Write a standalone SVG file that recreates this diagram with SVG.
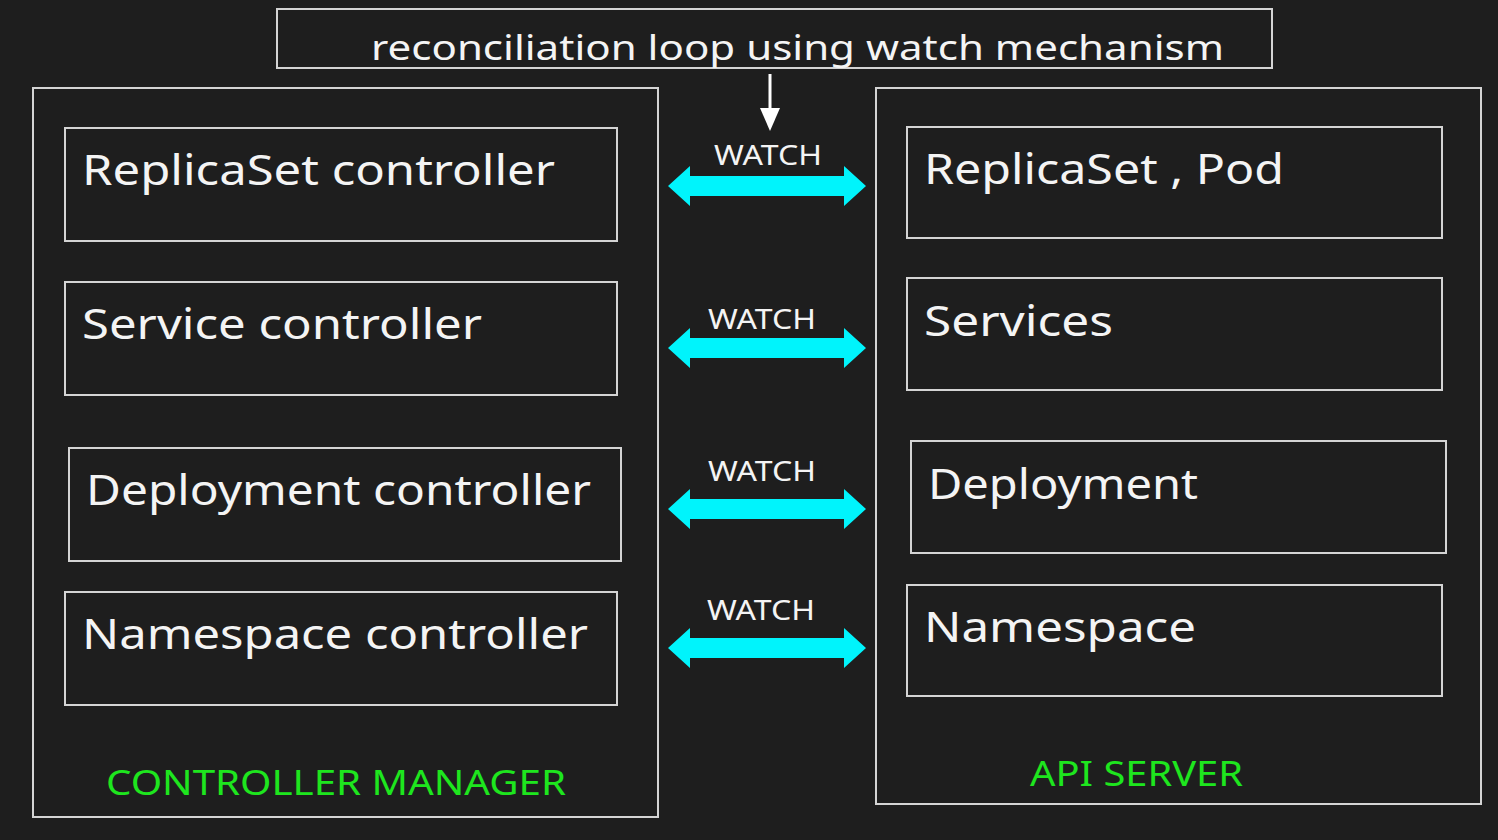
<svg xmlns="http://www.w3.org/2000/svg" width="1498" height="840" viewBox="0 0 1498 840">
<defs>
<style>
.box{fill:none;stroke:#d4d4d4;stroke-width:2}
.t{font-family:"Noto Sans","DejaVu Sans",sans-serif;fill:#f4f4f4}
.big{font-size:42px}
.w{font-size:27px;text-anchor:middle}
.g{font-family:"Noto Sans","DejaVu Sans",sans-serif;fill:#1ee61e;font-size:35px}
.arr{fill:#00f4fc}
</style>
<path id="dbl" d="M0,0 L22,-20 L22,-10 L176,-10 L176,-20 L198,0 L176,20 L176,10 L22,10 L22,20 Z"/>
</defs>
<rect width="1498" height="840" fill="#1e1e1e"/>

<g id="loop">
<rect class="box" x="277" y="9" width="995" height="59"/>
<text class="t" x="371" y="60" font-size="35" textLength="853" lengthAdjust="spacingAndGlyphs">reconciliation loop using watch mechanism</text>
</g>

<g id="controller-manager">
<rect class="box" x="33" y="88" width="625" height="729"/>
<text class="g" x="106" y="795" textLength="460" lengthAdjust="spacingAndGlyphs">CONTROLLER MANAGER</text>
</g>
<g id="api-server">
<rect class="box" x="876" y="88" width="605" height="716"/>
<text class="g" x="1030" y="786" textLength="213" lengthAdjust="spacingAndGlyphs">API SERVER</text>
</g>

<g id="rs-controller">
<rect class="box" x="65" y="128" width="552" height="113"/>
<text class="t big" x="82" y="185" textLength="473" lengthAdjust="spacingAndGlyphs">ReplicaSet controller</text>
</g>
<g id="svc-controller">
<rect class="box" x="65" y="282" width="552" height="113"/>
<text class="t big" x="82" y="339" textLength="400" lengthAdjust="spacingAndGlyphs">Service controller</text>
</g>
<g id="deploy-controller">
<rect class="box" x="69" y="448" width="552" height="113"/>
<text class="t big" x="86" y="505" textLength="505" lengthAdjust="spacingAndGlyphs">Deployment controller</text>
</g>
<g id="ns-controller">
<rect class="box" x="65" y="592" width="552" height="113"/>
<text class="t big" x="82" y="649" textLength="506" lengthAdjust="spacingAndGlyphs">Namespace controller</text>
</g>

<g id="rs-pod">
<rect class="box" x="907" y="127" width="535" height="111"/>
<text class="t big" x="924" y="184" textLength="360" lengthAdjust="spacingAndGlyphs">ReplicaSet , Pod</text>
</g>
<g id="services">
<rect class="box" x="907" y="278" width="535" height="112"/>
<text class="t big" x="924" y="336" textLength="189" lengthAdjust="spacingAndGlyphs">Services</text>
</g>
<g id="deployment">
<rect class="box" x="911" y="441" width="535" height="112"/>
<text class="t big" x="928" y="499" textLength="270" lengthAdjust="spacingAndGlyphs">Deployment</text>
</g>
<g id="namespace">
<rect class="box" x="907" y="585" width="535" height="111"/>
<text class="t big" x="924" y="642" textLength="272" lengthAdjust="spacingAndGlyphs">Namespace</text>
</g>

<g id="connectors">
<line x1="770" y1="74" x2="770" y2="112" stroke="#ffffff" stroke-width="3"/>
<path d="M760,108 L780,108 L770,131 Z" fill="#ffffff"/>
<use href="#dbl" class="arr" x="668" y="186"/>
<use href="#dbl" class="arr" x="668" y="348"/>
<use href="#dbl" class="arr" x="668" y="509"/>
<use href="#dbl" class="arr" x="668" y="648"/>
<text class="t w" x="768" y="165" textLength="108" lengthAdjust="spacingAndGlyphs">WATCH</text>
<text class="t w" x="762" y="329" textLength="108" lengthAdjust="spacingAndGlyphs">WATCH</text>
<text class="t w" x="762" y="481" textLength="108" lengthAdjust="spacingAndGlyphs">WATCH</text>
<text class="t w" x="761" y="620" textLength="108" lengthAdjust="spacingAndGlyphs">WATCH</text>
</g>
</svg>
